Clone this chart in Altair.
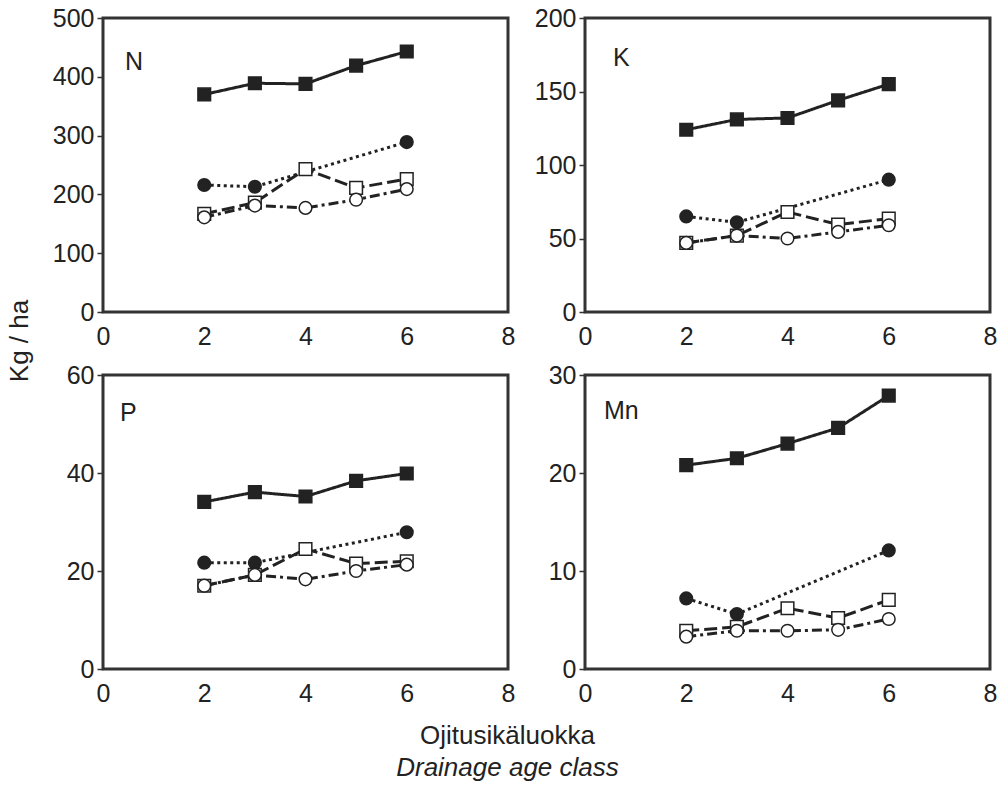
import altair as alt
import pandas as pd

# ---- data ----
x_all = [2, 3, 4, 5, 6]
x_circ = [2, 3, 6]
series_names = ["s1", "s2", "s3", "s4"]

N_s1 = [370, 389, 388, 419, 443]
N_s2 = [216, 213, 289]
N_s3 = [167, 186, 243, 211, 226]
N_s4 = [161, 181, 177, 191, 209]

K_s1 = [124, 131, 132, 144, 155]
K_s2 = [65, 61, 90]
K_s3 = [47, 52, 68, 59.5, 63.5]
K_s4 = [47, 52, 50, 54.5, 59]

P_s1 = [34.1, 36.1, 35.2, 38.4, 39.9]
P_s2 = [21.7, 21.7, 27.9]
P_s3 = [17, 19.2, 24.5, 21.5, 22]
P_s4 = [17, 19.2, 18.3, 20, 21.3]

Mn_s1 = [20.8, 21.5, 23.0, 24.6, 27.9]
Mn_s2 = [7.2, 5.6, 12.1]
Mn_s3 = [3.9, 4.3, 6.2, 5.2, 7.05]
Mn_s4 = [3.3, 3.9, 3.9, 4.0, 5.1]

panel_names = ["N", "K", "P", "Mn"]
panel_series = [[N_s1, N_s2, N_s3, N_s4], [K_s1, K_s2, K_s3, K_s4],
                [P_s1, P_s2, P_s3, P_s4], [Mn_s1, Mn_s2, Mn_s3, Mn_s4]]
panel_yticks = [[0, 100, 200, 300, 400, 500], [0, 50, 100, 150, 200],
                [0, 20, 40, 60], [0, 10, 20, 30]]
x_ticks = [0, 2, 4, 6, 8]

# label placement inside each frame (pixels) -- style, not data
label_pos = [(22, 52), (28, 48), (17, 46), (19, 44)]

FONT = "Liberation Sans"
INK = "#222222"

shape_scale = alt.Scale(domain=series_names, range=["square", "circle", "square", "circle"])
fill_scale = alt.Scale(domain=series_names, range=[INK, INK, "white", "white"])
dash_scale = alt.Scale(domain=series_names, range=[[1, 0], [3, 3.5], [13, 5], [10, 4, 3, 4]])


def make_panel(name, series, yticks, pos):
    rows = []
    for sname, vals in zip(series_names, series):
        xs = x_circ if sname == "s2" else x_all
        for xv, yv in zip(xs, vals):
            rows.append({"x": xv, "y": yv, "series": sname})
    df = pd.DataFrame(rows)
    xenc = alt.X("x:Q", scale=alt.Scale(domain=[0, 8]),
                 axis=alt.Axis(values=x_ticks, title=None, ticks=False, labelPadding=12,
                               labelFlush=False, domain=False, grid=False))
    yenc = alt.Y("y:Q", scale=alt.Scale(domain=[yticks[0], yticks[-1]]),
                 axis=alt.Axis(values=yticks, title=None, tickSize=6, labelPadding=3,
                               domain=False, grid=False, minExtent=52))
    base = alt.Chart(df)
    lines = base.mark_line(color=INK, strokeWidth=3).encode(
        x=xenc, y=yenc,
        strokeDash=alt.StrokeDash("series:N", scale=dash_scale, legend=None),
    )
    pts = base.mark_point(opacity=1, strokeWidth=1.5, stroke=INK, size=160).encode(
        x="x:Q", y="y:Q",
        shape=alt.Shape("series:N", scale=shape_scale, legend=None),
        fill=alt.Fill("series:N", scale=fill_scale, legend=None),
    )
    label = alt.Chart(pd.DataFrame({"t": [name]})).mark_text(
        align="left", baseline="alphabetic", fontSize=25, font=FONT, color=INK
    ).encode(text="t:N", x=alt.value(pos[0]), y=alt.value(pos[1]))
    return alt.layer(lines, pts, label).properties(width=405, height=294)


charts = [make_panel(n, s, t, p) for n, s, t, p in
          zip(panel_names, panel_series, panel_yticks, label_pos)]

grid = alt.concat(*charts, columns=2, spacing={"row": 10, "column": 14}).properties(
    title=alt.TitleParams("Kg / ha", orient="left", anchor="middle", fontSize=26,
                          font=FONT, fontWeight="normal", color=INK, offset=17, dx=15)
)

chart = alt.vconcat(grid).properties(
    title=alt.TitleParams(
        "Ojitusikäluokka", subtitle="Drainage age class", orient="bottom", anchor="middle",
        fontSize=26, font=FONT, fontWeight="normal", color=INK,
        subtitleFontSize=26, subtitleFont=FONT, subtitleFontStyle="italic",
        subtitleColor=INK, subtitlePadding=6, offset=15, dx=5,
    ),
    padding={"left": 6, "top": 4, "right": 3, "bottom": 5},
).configure_view(stroke="#333333", strokeWidth=3).configure_axis(
    labelFont=FONT, labelFontSize=25, labelColor=INK, tickColor="#333333", tickWidth=1.5
)

chart.save("out.html", embed_options={"renderer": "svg", "actions": False})
